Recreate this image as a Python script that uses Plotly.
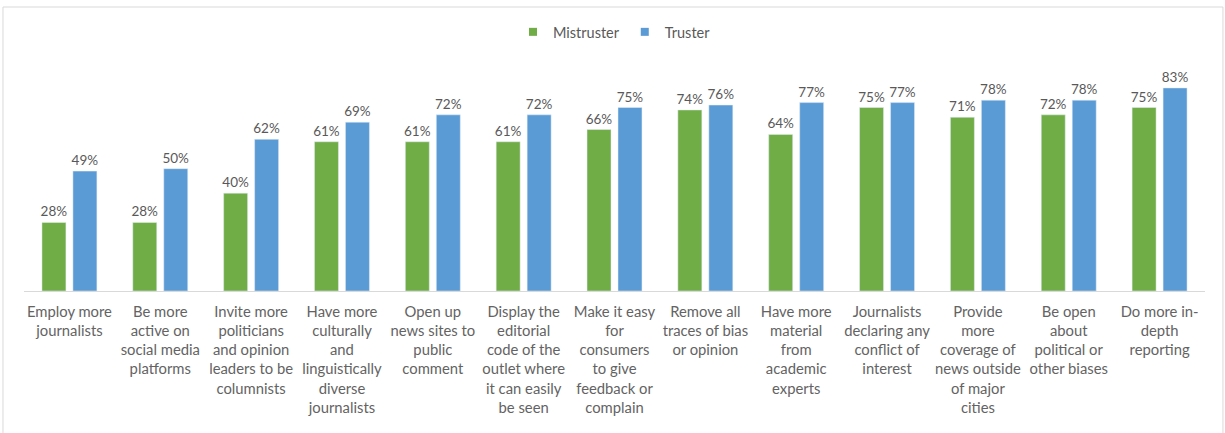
import plotly.graph_objects as go

categories = [
    "Employ more<br>journalists",
    "Be more<br>active on<br>social media<br>platforms",
    "Invite more<br>politicians<br>and opinion<br>leaders to be<br>columnists",
    "Have more<br>culturally<br>and<br>linguistically<br>diverse<br>journalists",
    "Open up<br>news sites to<br>public<br>comment",
    "Display the<br>editorial<br>code of the<br>outlet where<br>it can easily<br>be seen",
    "Make it easy<br>for<br>consumers<br>to give<br>feedback or<br>complain",
    "Remove all<br>traces of bias<br>or opinion",
    "Have more<br>material<br>from<br>academic<br>experts",
    "Journalists<br>declaring any<br>conflict of<br>interest",
    "Provide<br>more<br>coverage of<br>news outside<br>of major<br>cities",
    "Be open<br>about<br>political or<br>other biases",
    "Do more in-<br>depth<br>reporting",
]
mistruster = [28, 28, 40, 61, 61, 61, 66, 74, 64, 75, 71, 72, 75]
truster = [49, 50, 62, 69, 72, 72, 75, 76, 77, 77, 78, 78, 83]

green = "#70AD47"
blue = "#5B9BD5"
grey = "#595959"
font_family = "Open Sans, Liberation Sans, sans-serif"
tick_family = "Lato, Open Sans, sans-serif"

fig = go.Figure()
fig.add_trace(go.Bar(
    name="Mistruster", x=categories, y=mistruster, marker_color=green,
    text=[f"{v}%" for v in mistruster], textposition="outside",
    textfont=dict(color=grey, size=13.5, family=tick_family), cliponaxis=False,
    constraintext="none", showlegend=False,
))
fig.add_trace(go.Bar(
    name="Truster", x=categories, y=truster, marker_color=blue,
    text=[f"{v}%" for v in truster], textposition="outside",
    textfont=dict(color=grey, size=13.5, family=tick_family), cliponaxis=False,
    constraintext="none", showlegend=False,
))
# legend entries with small square markers
for name, col in [("Mistruster", green), ("Truster", blue)]:
    fig.add_trace(go.Scatter(
        x=[None], y=[None], mode="markers", name=name,
        marker=dict(symbol="square", size=8, color=col), showlegend=True,
    ))

fig.update_layout(
    width=1225, height=433,
    margin=dict(l=24, r=20, t=50, b=142),
    paper_bgcolor="white", plot_bgcolor="white",
    font=dict(family=font_family, color=grey, size=12),
    barmode="group", bargap=0.318, bargroupgap=0.226,
    showlegend=True,
    legend=dict(orientation="h", x=0.5, xanchor="center", y=1.075, yanchor="middle",
                font=dict(size=14.5, color=grey, family=tick_family), itemwidth=30,
                traceorder="normal", bgcolor="rgba(0,0,0,0)"),
    xaxis=dict(showline=True, linecolor="#D9D9D9", linewidth=1, ticks="",
               tickfont=dict(size=14.8, color="#636363", family=tick_family), tickangle=0,
               showgrid=False, ticklabelstandoff=7),
    yaxis=dict(range=[0, 98.5], visible=False, showgrid=False),
    shapes=[dict(type="rect", xref="paper", yref="paper",
                 x0=-0.0178, x1=1.0152, y0=-0.6, y1=1.1784,
                 line=dict(color="#D9D9D9", width=1), layer="below")],
)

fig.write_html("out.html")
